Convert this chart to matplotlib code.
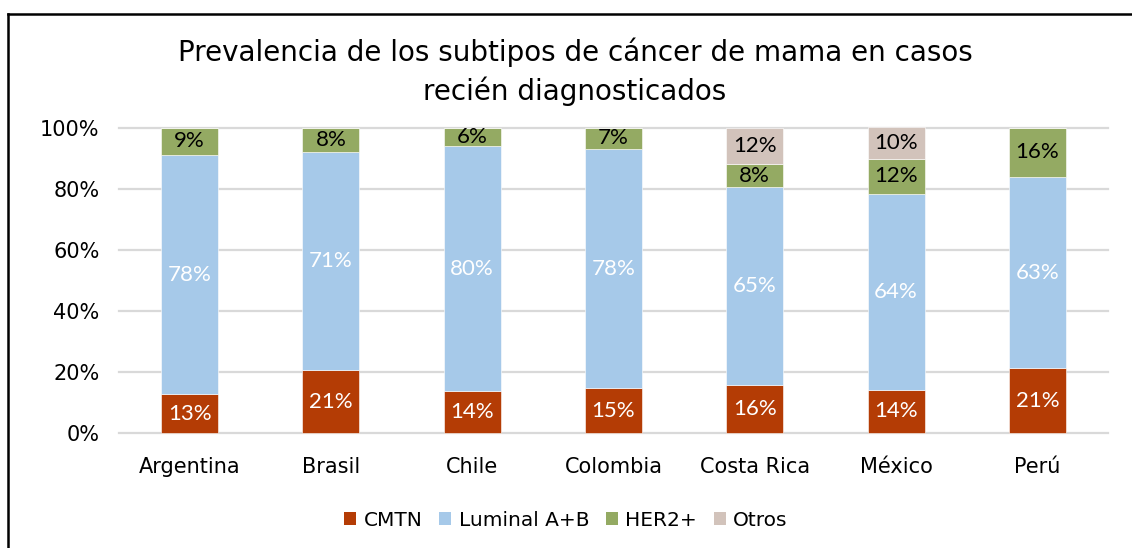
import matplotlib
matplotlib.use("Agg")
import matplotlib.pyplot as plt
from matplotlib.lines import Line2D
from matplotlib.patches import Patch
import numpy as np

countries = ["Argentina", "Brasil", "Chile", "Colombia", "Costa Rica", "México", "Perú"]
cmtn = [12.7, 20.6, 13.8, 14.7, 15.6, 14.1, 21.2]
luminal = [78.4, 71.4, 80.1, 78.3, 64.9, 64.2, 62.6]
her2 = [8.9, 8.0, 6.1, 7.0, 7.6, 11.6, 16.2]
otros = [0, 0, 0, 0, 11.9, 10.4, 0]

series_names = ["CMTN", "Luminal A+B", "HER2+", "Otros"]
colors = ["#B43C05", "#A6C9E9", "#94AA63", "#D2C3BB"]
label_colors = ["white", "white", "black", "black"]
yticks = [0, 20, 40, 60, 80, 100]

plt.rcParams['font.family'] = ['DejaVu Sans']

fig = plt.figure(figsize=(11.32, 5.48), dpi=100)
ax = fig.add_axes([119/1132, 1 - 433/548, (1108 - 119)/1132, (433 - 127.7)/548])

x = np.arange(len(countries))
width = 0.403
bottom = np.zeros(len(countries))
for vals, name, col, lc in zip([cmtn, luminal, her2, otros], series_names, colors, label_colors):
    v = np.array(vals, dtype=float)
    ax.bar(x, v, width, bottom=bottom, color=col, label=name, zorder=3, clip_on=False,
           edgecolor="white", linewidth=0.4)
    for xi, b, h in zip(x, bottom, v):
        if h > 0:
            ax.text(xi, b + h / 2, f"{h:.0f}%", ha="center", va="center", color=lc,
                    fontsize=16, family="Lato", zorder=4)
    bottom += v

ax.set_xlim(-0.5, len(countries) - 0.5)
ax.set_ylim(0, 100)
ax.set_yticks(yticks)
ax.set_yticklabels([f"{t}%" for t in yticks])
ax.set_xticks(x)
ax.set_xticklabels(countries)
ax.tick_params(axis="both", length=0, labelsize=15)
ax.tick_params(axis="y", pad=14)
ax.tick_params(axis="x", pad=17)
ax.yaxis.grid(True, color="#D9D9D9", linewidth=1.6, zorder=0)
for gl in ax.get_ygridlines():
    gl.set_clip_on(False)
for s in ax.spines.values():
    s.set_visible(False)

fig.text(575/1132, 1 - 72/548, "Prevalencia de los subtipos de cáncer de mama en casos\nrecién diagnosticados",
         ha="center", va="center", fontsize=20, linespacing=1.4)

handles = [Patch(facecolor=c, edgecolor="none") for c in colors]
fig.legend(handles, series_names, loc="center", bbox_to_anchor=(566/1132, 1 - 520/548), ncol=4,
           frameon=False, fontsize=14.5, handlelength=0.6, handleheight=0.6, handletextpad=0.35,
           columnspacing=0.85)

# frame (top and left edges visible)
fig.add_artist(Line2D([8/1132, 8/1132], [0, 1 - 14/548], transform=fig.transFigure, color="black", lw=1.8))
fig.add_artist(Line2D([8/1132, 1], [1 - 14/548, 1 - 14/548], transform=fig.transFigure, color="black", lw=1.8))

fig.savefig("out.png", dpi=100)
